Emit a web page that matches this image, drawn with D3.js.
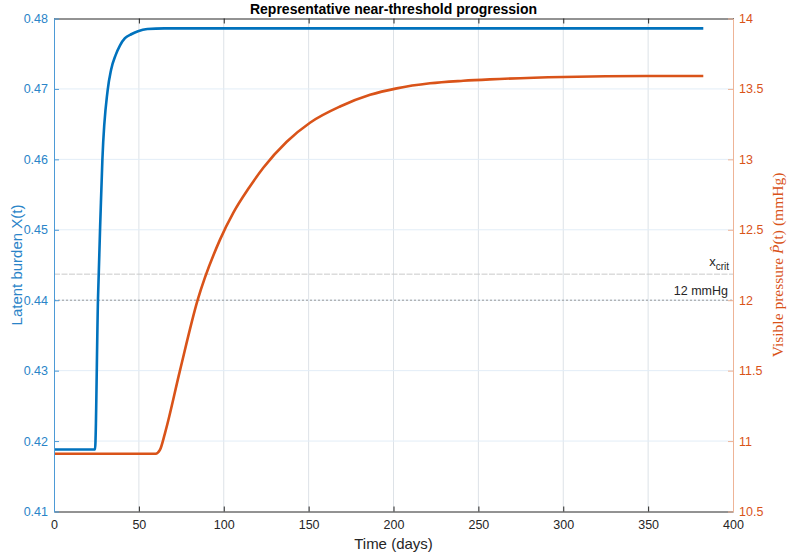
<!DOCTYPE html>
<html>
<head>
<meta charset="utf-8">
<script src="https://cdn.jsdelivr.net/npm/d3@7"></script>
<style>
  body { margin: 0; background: #fff; }
  text { font-family: Helvetica, Arial, "Liberation Sans", sans-serif; }
</style>
</head>
<body>
<div id="chart-area"></div>
<script>
const MARGIN = { LEFT: 54, RIGHT: 62, TOP: 18.5, BOTTOM: 45.5 }
const WIDTH = 795 - MARGIN.LEFT - MARGIN.RIGHT
const HEIGHT = 557 - MARGIN.TOP - MARGIN.BOTTOM

// Data
const latentDays = [0, 24.15, 25.9, 27.5, 28.5, 31.6, 33.6, 36.3, 38.9, 41.8, 45.8, 49.5, 55, 65, 382.5]
const latentVals = [0.4188, 0.4188, 0.4400, 0.4528, 0.4599, 0.4698, 0.4727, 0.4748, 0.4762, 0.4772, 0.4778, 0.4782, 0.4785, 0.4786, 0.4786]

const pressureDays = [0, 59.9, 62.4, 65.4, 74.2, 84.6, 97.8, 105.6, 115, 123.3, 137.1, 150.8, 168.5, 186.2, 201.9, 221.5, 241.1, 256.8, 300, 349, 382.5]
const pressureVals = [10.91, 10.91, 10.937, 11.057, 11.5, 12.0, 12.43, 12.62, 12.8, 12.94, 13.125, 13.26, 13.375, 13.458, 13.504, 13.54, 13.558, 13.568, 13.585, 13.592, 13.592]

const xTicks = [0, 50, 100, 150, 200, 250, 300, 350, 400]
const leftTicks = [0.41, 0.42, 0.43, 0.44, 0.45, 0.46, 0.47, 0.48]
const rightTicks = [10.5, 11, 11.5, 12, 12.5, 13, 13.5, 14]

const xCrit = 0.4437
const pressureLimit = 12

const BLUE = "#0072BD"
const ORANGE = "#D95319"
const INK = "#262626"

const svg = d3.select("#chart-area").append("svg")
    .attr("width", WIDTH + MARGIN.LEFT + MARGIN.RIGHT)
    .attr("height", HEIGHT + MARGIN.TOP + MARGIN.BOTTOM)

const g = svg.append("g")
    .attr("transform", `translate(${MARGIN.LEFT}, ${MARGIN.TOP})`)

// Scales
const x = d3.scaleLinear().domain([0, 400]).range([0, WIDTH])
const yL = d3.scaleLinear().domain([0.41, 0.48]).range([HEIGHT, 0])
const yR = d3.scaleLinear().domain([10.5, 14]).range([HEIGHT, 0])

// Grid
g.selectAll(".vgrid").data(xTicks.slice(1, -1)).enter().append("line")
    .attr("x1", d => x(d)).attr("x2", d => x(d))
    .attr("y1", 0).attr("y2", HEIGHT)
    .attr("stroke", "#dde2e7").attr("stroke-width", 1)
g.selectAll(".hgrid").data(leftTicks.slice(1, -1)).enter().append("line")
    .attr("x1", 0).attr("x2", WIDTH)
    .attr("y1", d => yL(d)).attr("y2", d => yL(d))
    .attr("stroke", "#e2edf7").attr("stroke-width", 1)

// Threshold lines
g.append("line")
    .attr("x1", 0).attr("x2", WIDTH)
    .attr("y1", yL(xCrit)).attr("y2", yL(xCrit))
    .attr("stroke", "#c9c9c9").attr("stroke-width", 1)
    .attr("stroke-dasharray", "6,1.5")
g.append("line")
    .attr("x1", 0).attr("x2", WIDTH)
    .attr("y1", yR(pressureLimit)).attr("y2", yR(pressureLimit))
    .attr("stroke", "#9a9a9a").attr("stroke-width", 1)
    .attr("stroke-dasharray", "2,2")

const critLabel = g.append("text")
    .attr("x", WIDTH - 4).attr("y", yL(xCrit) - 8)
    .attr("text-anchor", "end")
    .attr("font-size", "13px").attr("fill", INK)
critLabel.append("tspan").text("x")
critLabel.append("tspan").attr("dy", 4).attr("font-size", "10px").text("crit")

g.append("text")
    .attr("x", WIDTH - 5).attr("y", yR(pressureLimit) - 5)
    .attr("text-anchor", "end")
    .attr("font-size", "12.5px").attr("fill", INK)
    .text("12 mmHg")

// Lines
const latentLine = d3.line()
    .x((d, i) => x(latentDays[i]))
    .y(d => yL(d))
    .curve(d3.curveMonotoneX)
const pressureLine = d3.line()
    .x((d, i) => x(pressureDays[i]))
    .y(d => yR(d))
    .curve(d3.curveMonotoneX)

g.append("path").datum(latentVals)
    .attr("d", latentLine)
    .attr("fill", "none").attr("stroke", BLUE).attr("stroke-width", 2.6)
g.append("path").datum(pressureVals)
    .attr("d", pressureLine)
    .attr("fill", "none").attr("stroke", ORANGE).attr("stroke-width", 2.6)

// X Axis (bottom + top box edge)
const xAxisCall = d3.axisBottom(x).tickValues(xTicks).tickSizeInner(-5).tickSizeOuter(0).tickPadding(9)
const xAxis = g.append("g")
    .attr("transform", `translate(0, ${HEIGHT})`)
    .call(xAxisCall)
xAxis.select(".domain").attr("stroke", INK)
xAxis.selectAll(".tick line").attr("stroke", INK)
xAxis.selectAll(".tick text").attr("fill", INK).attr("font-size", "12.5px")
    .style("font-family", "Helvetica, Arial, 'Liberation Sans', sans-serif")

const topAxis = g.append("g")
    .call(d3.axisTop(x).tickValues(xTicks).tickSizeInner(-5).tickSizeOuter(0).tickFormat(""))
topAxis.select(".domain").attr("stroke", INK)
topAxis.selectAll(".tick line").attr("stroke", INK)

// Left Y Axis
const yAxisL = g.append("g")
    .call(d3.axisLeft(yL).tickValues(leftTicks).tickFormat(d3.format(".2f")).tickSizeInner(-5).tickSizeOuter(0).tickPadding(6))
yAxisL.select(".domain").attr("stroke", "#4d9ad6")
yAxisL.selectAll(".tick line").attr("stroke", "#4d9ad6")
yAxisL.selectAll(".tick text").attr("fill", "#2a84c8").attr("font-size", "12.5px")
    .style("font-family", "Helvetica, Arial, 'Liberation Sans', sans-serif")

// Right Y Axis
const yAxisR = g.append("g")
    .attr("transform", `translate(${WIDTH}, 0)`)
    .call(d3.axisRight(yR).tickValues(rightTicks).tickFormat(d => String(d)).tickSizeInner(-5).tickSizeOuter(0).tickPadding(6))
yAxisR.select(".domain").attr("stroke", "#eeb497")
yAxisR.selectAll(".tick line").attr("stroke", "#eeb497")
yAxisR.selectAll(".tick text").attr("fill", ORANGE).attr("font-size", "12.5px")
    .style("font-family", "Helvetica, Arial, 'Liberation Sans', sans-serif")

// Labels
svg.append("text")
    .attr("x", MARGIN.LEFT + WIDTH / 2).attr("y", 14)
    .attr("text-anchor", "middle")
    .attr("font-size", "14px").attr("font-weight", "bold").attr("fill", "#000")
    .text("Representative near-threshold progression")

svg.append("text")
    .attr("x", MARGIN.LEFT + WIDTH / 2).attr("y", 549)
    .attr("text-anchor", "middle")
    .attr("font-size", "15px").attr("fill", INK)
    .text("Time (days)")

svg.append("text")
    .attr("transform", `translate(22, ${MARGIN.TOP + HEIGHT / 2}) rotate(-90)`)
    .attr("text-anchor", "middle")
    .attr("font-size", "15px").attr("fill", "#2a84c8")
    .text("Latent burden X(t)")

const rLabel = svg.append("text")
    .attr("transform", `translate(783, ${MARGIN.TOP + HEIGHT / 2}) rotate(-90)`)
    .attr("text-anchor", "middle")
    .attr("font-size", "15.5px").attr("fill", ORANGE)
    .style("font-family", "'Liberation Serif', 'DejaVu Serif', serif")
rLabel.append("tspan").text("Visible pressure ")
rLabel.append("tspan").attr("font-style", "italic").text("P\u0302")
rLabel.append("tspan").text("(t)  (mmHg)")
</script>
</body>
</html>
